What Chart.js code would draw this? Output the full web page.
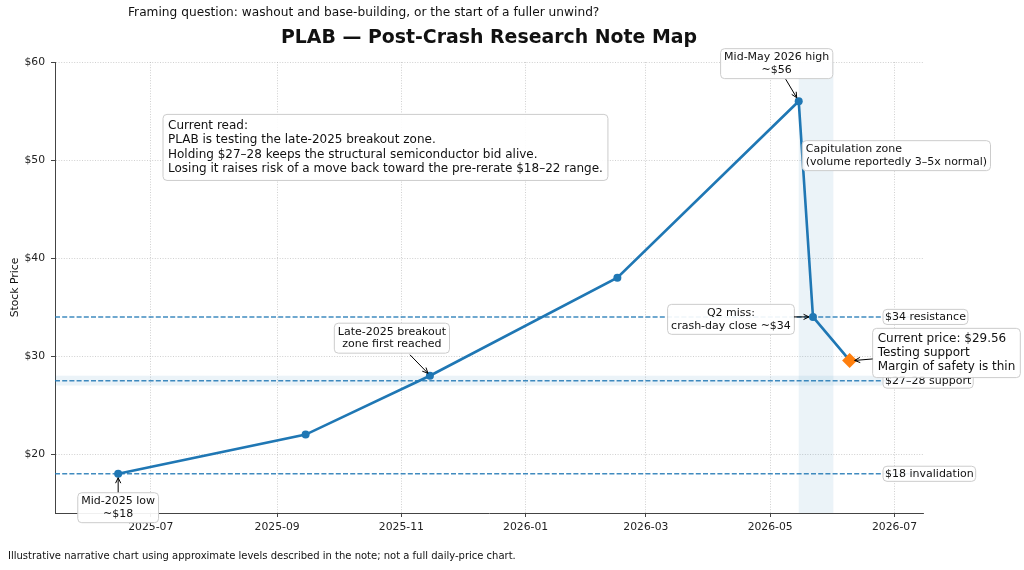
<!DOCTYPE html>
<html>
<head>
<meta charset="utf-8">
<title>PLAB post-crash map</title>
<script src="https://cdn.jsdelivr.net/npm/chart.js@4.4.0/dist/chart.umd.min.js"></script>
<style>
  body { margin: 0; background: #fff; }
  canvas { display: block; }
</style>
</head>
<body>
<canvas id="plabChart" width="1024" height="570"></canvas>
<script>
// --- data ---
const dates = ['2025-06-15', '2025-09-15', '2025-11-15', '2026-02-15', '2026-05-15', '2026-05-22', '2026-06-09'];
const prices = [18, 22, 28, 38, 56, 34, 29.56];
const tickDates = ['2025-07-01', '2025-09-01', '2025-11-01', '2026-01-01', '2026-03-01', '2026-05-01', '2026-07-01'];
const tickPrices = [20, 30, 40, 50, 60];
const xRange = ['2025-05-15', '2026-07-15'];
const yRange = [14, 60];
const capZone = ['2026-05-15', '2026-06-01'];
const supportBand = [27, 28];
const levels = [34, 27.5, 18];
const levelLabels = ['$34 resistance', '$27\u201328 support', '$18 invalidation'];

const toDay = s => Date.UTC(+s.slice(0, 4), +s.slice(5, 7) - 1, +s.slice(8, 10)) / 86400000;
const fmtMonth = v => {
  const d = new Date(v * 86400000);
  return d.getUTCFullYear() + '-' + String(d.getUTCMonth() + 1).padStart(2, '0');
};

const FONT = "'DejaVu Sans', sans-serif";
const BLUE = '#1f77b4';
const ORANGE = '#ff7f0e';

function textBox(ctx, lines, x, y, o) {
  // y = centre of first line, x = centre or left edge of text
  ctx.save();
  ctx.font = o.size + 'px ' + FONT;
  const lh = o.size * (o.lh || 1.17);
  const w = Math.max(...lines.map(l => ctx.measureText(l).width));
  const left = o.align === 'center' ? x - w / 2 : x;
  const bx = left - o.padX, by = y - o.size * 0.55 - o.padY;
  const bw = w + 2 * o.padX, bh = (lines.length - 1) * lh + o.size * 1.1 + 2 * o.padY;
  ctx.beginPath();
  ctx.roundRect(bx, by, bw, bh, 4);
  ctx.fillStyle = 'rgba(255,255,255,0.92)';
  ctx.fill();
  ctx.strokeStyle = '#cccccc';
  ctx.lineWidth = 1;
  ctx.stroke();
  ctx.fillStyle = '#111';
  ctx.textBaseline = 'middle';
  ctx.textAlign = o.align === 'center' ? 'center' : 'left';
  lines.forEach((l, i) => ctx.fillText(l, x, y + i * lh));
  ctx.restore();
}

function arrow(ctx, x1, y1, x2, y2) {
  ctx.save();
  ctx.strokeStyle = '#000';
  ctx.lineWidth = 1;
  ctx.beginPath();
  ctx.moveTo(x1, y1);
  ctx.lineTo(x2, y2);
  ctx.stroke();
  const a = Math.atan2(y2 - y1, x2 - x1), h = 6;
  ctx.beginPath();
  ctx.moveTo(x2 - h * Math.cos(a - 0.45), y2 - h * Math.sin(a - 0.45));
  ctx.lineTo(x2, y2);
  ctx.lineTo(x2 - h * Math.cos(a + 0.45), y2 - h * Math.sin(a + 0.45));
  ctx.stroke();
  ctx.restore();
}

// annotations: point index, text offset from point, arrow start / end offsets
const notes = [
  { i: 0, lines: ['Mid-2025 low', '~$18'], dx: 0, dy: 27.5, align: 'center', arrow: [0, 18.5, 0, 4] },
  { i: 2, lines: ['Late-2025 breakout', 'zone first reached'], dx: -38, dy: -44, align: 'center', arrow: [-20, -21, -2, -2.5] },
  { i: 4, lines: ['Mid-May 2026 high', '~$56'], dx: -22, dy: -44, align: 'center', arrow: [-13, -22, -2, -3.5] },
  { i: 4, lines: ['Capitulation zone', '(volume reportedly 3\u20135x normal)'], dx: 7, dy: 48, align: 'left' },
  { i: 5, lines: ['Q2 miss:', 'crash-day close ~$34'], dx: -82, dy: -4, align: 'center', arrow: [-19, 0, -4, 0] },
  { i: 6, lines: ['Current price: $29.56', 'Testing support', 'Margin of safety is thin'], dx: 28, dy: -21.5, align: 'left', size: 12, pad: 4, arrow: [23, -1.5, 5, 0] }
];

const narrative = {
  id: 'narrative',
  beforeDatasetsDraw(chart) {
    const { ctx, chartArea: a, scales: { x, y } } = chart;
    ctx.save();
    // shaded zones
    ctx.fillStyle = 'rgba(31,119,180,0.09)';
    const y1 = y.getPixelForValue(supportBand[1]), y0 = y.getPixelForValue(supportBand[0]);
    ctx.fillRect(a.left, y1, a.right - a.left, y0 - y1);
    const c0 = x.getPixelForValue(toDay(capZone[0])), c1 = x.getPixelForValue(toDay(capZone[1]));
    ctx.fillRect(c0, a.top, c1 - c0, a.bottom - a.top);
    // level lines
    ctx.strokeStyle = 'rgba(31,119,180,0.85)';
    ctx.lineWidth = 1.5;
    ctx.setLineDash([5, 2.2]);
    levels.forEach(v => {
      const py = y.getPixelForValue(v);
      ctx.beginPath();
      ctx.moveTo(a.left, py);
      ctx.lineTo(a.right, py);
      ctx.stroke();
    });
    ctx.restore();
  },
  afterDraw(chart) {
    const { ctx, chartArea: a, scales: { x, y } } = chart;
    // titles
    ctx.save();
    ctx.fillStyle = '#111';
    ctx.textBaseline = 'middle';
    ctx.font = 'bold 18.9px ' + FONT;
    ctx.textAlign = 'center';
    ctx.fillText('PLAB \u2014 Post-Crash Research Note Map', (a.left + a.right) / 2, 38);
    ctx.font = '12.2px ' + FONT;
    ctx.textAlign = 'left';
    ctx.fillText('Framing question: washout and base-building, or the start of a fuller unwind?', 128, 13);
    ctx.font = '10px ' + FONT;
    ctx.fillText('Illustrative narrative chart using approximate levels described in the note; not a full daily-price chart.', 8, 556);
    // y axis title
    ctx.font = '10.8px ' + FONT;
    ctx.translate(15, (a.top + a.bottom) / 2);
    ctx.rotate(-Math.PI / 2);
    ctx.textAlign = 'center';
    ctx.fillText('Stock Price', 0, 0);
    ctx.restore();

    // level labels
    levels.forEach((v, k) => {
      textBox(ctx, [levelLabels[k]], a.right - 38, y.getPixelForValue(v), { size: 11, padX: 2, padY: 1.5, align: 'left' });
    });

    // main read box
    textBox(ctx, [
      'Current read:',
      'PLAB is testing the late-2025 breakout zone.',
      'Holding $27\u201328 keeps the structural semiconductor bid alive.',
      'Losing it raises risk of a move back toward the pre-rerate $18\u201322 range.'
    ], a.left + 113, a.top + 64, { size: 12, lh: 1.19, padX: 5, padY: 5, align: 'left' });

    // point annotations
    notes.forEach(n => {
      const px = x.getPixelForValue(toDay(dates[n.i])), py = y.getPixelForValue(prices[n.i]);
      const pad = n.pad || 2.5;
      textBox(ctx, n.lines, px + n.dx, py + n.dy, { size: n.size || 11, padX: pad + 1, padY: pad, align: n.align });
      if (n.arrow) arrow(ctx, px + n.arrow[0], py + n.arrow[1], px + n.arrow[2], py + n.arrow[3]);
    });
  }
};

Chart.defaults.font.family = FONT;
Chart.defaults.color = '#222';

const gridStyle = { color: 'rgba(176,176,176,0.75)', lineWidth: 0.8, tickLength: 4, tickColor: '#444', tickWidth: 1 };
const borderStyle = { color: '#444', width: 1, dash: [1, 1.6] };

new Chart(document.getElementById('plabChart'), {
  type: 'line',
  data: {
    datasets: [{
      label: 'Current price',
      data: [{ x: toDay(dates[dates.length - 1]), y: prices[prices.length - 1] }],
      showLine: false,
      pointStyle: 'rectRot',
      pointRadius: 7.5,
      pointBackgroundColor: ORANGE,
      pointBorderColor: ORANGE,
      pointBorderWidth: 0,
      order: 0
    }, {
      label: 'PLAB',
      data: dates.map((d, i) => ({ x: toDay(d), y: prices[i] })),
      borderColor: BLUE,
      borderWidth: 2.6,
      pointRadius: prices.map((_, i) => i === prices.length - 1 ? 0 : 4),
      pointBackgroundColor: BLUE,
      pointBorderWidth: 0,
      tension: 0,
      order: 1
    }]
  },
  options: {
    responsive: false,
    animation: false,
    devicePixelRatio: 1,
    layout: { padding: { top: 62, right: 101, left: 0, bottom: 0 } },
    scales: {
      x: {
        type: 'linear',
        min: toDay(xRange[0]),
        max: toDay(xRange[1]),
        afterBuildTicks: s => { s.ticks = tickDates.map(d => ({ value: toDay(d) })); },
        afterFit: s => { s.height = 57; },
        ticks: { callback: v => fmtMonth(v), autoSkip: false, maxRotation: 0, padding: 4, font: { size: 10.8 } },
        grid: gridStyle,
        border: borderStyle
      },
      y: {
        min: yRange[0],
        max: yRange[1],
        afterBuildTicks: s => { s.ticks = tickPrices.map(v => ({ value: v })); },
        afterFit: s => { s.width = 55; },
        ticks: { callback: v => '$' + v, padding: 6, font: { size: 10.8 } },
        grid: gridStyle,
        border: borderStyle
      }
    },
    plugins: {
      legend: { display: false },
      tooltip: { enabled: false }
    }
  },
  plugins: [narrative]
});
</script>
</body>
</html>
